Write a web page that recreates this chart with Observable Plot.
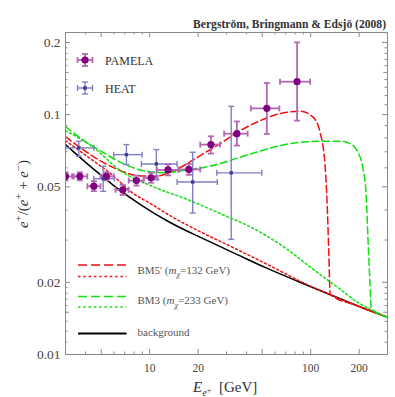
<!DOCTYPE html>
<html><head><meta charset="utf-8">
<script src="https://cdn.jsdelivr.net/npm/d3@7"></script>
<script src="https://cdn.jsdelivr.net/npm/@observablehq/plot@0.6"></script>
<style>body{margin:0;background:#fff} svg{display:block}</style>
</head><body>
<script>
// ---------- data ----------
// PAMELA positron fraction
const pamE   = [3.0, 3.68, 4.50, 5.39, 6.80, 8.27, 10.2, 13.0, 17.5, 24.0, 34.8, 53.4, 82.3];
const pamElo = [2.75, 3.38, 4.10, 4.95, 6.13, 7.41, 9.18, 11.1, 15.1, 20.6, 29.0, 42.5, 64.5];
const pamEhi = [3.30, 4.10, 4.95, 5.98, 7.41, 9.18, 11.2, 15.1, 20.6, 27.4, 40.6, 63.9, 99.2];
const pamY   = [0.0553, 0.0553, 0.0503, 0.0553, 0.0486, 0.0531, 0.0545, 0.0588, 0.0591, 0.0750, 0.0833, 0.1062, 0.1372];
const pamYlo = [0.0532, 0.0532, 0.0480, 0.0532, 0.0463, 0.0506, 0.0520, 0.0558, 0.0561, 0.0688, 0.0743, 0.0831, 0.0944];
const pamYhi = [0.0575, 0.0575, 0.0528, 0.0575, 0.0510, 0.0557, 0.0572, 0.0620, 0.0623, 0.0812, 0.0937, 0.1355, 0.2000];
// HEAT positron fraction
const heatE   = [3.63, 5.14, 7.17, 11.0, 18.5, 32.1];
const heatElo = [3.0, 4.5, 5.98, 8.88, 14.8, 26.1];
const heatEhi = [4.5, 6.04, 8.97, 14.8, 26.3, 49.7];
const heatY   = [0.0727, 0.0541, 0.0681, 0.0623, 0.0524, 0.0572];
const heatYlo = [0.0670, 0.0479, 0.0619, 0.0536, 0.0389, 0.0302];
const heatYhi = [0.0774, 0.0609, 0.0750, 0.0715, 0.0697, 0.1083];
// background
const bgE = [3.0, 4.05, 5.02, 6.58, 8.76, 13.4, 21.5, 35.0, 53.4, 85.8, 131.5, 193, 300];
const bgY = [0.0750, 0.0628, 0.0557, 0.0482, 0.0422, 0.0355, 0.0304, 0.0261, 0.0229, 0.0200, 0.0178, 0.0160, 0.0143];
// BM5' total (dashed)
const bm5E = [3.0, 4.48, 6.58, 8.39, 10.85, 13.8, 17.1, 20.6, 27.4, 36.5, 48.5, 64.6, 85.8, 103.4, 114.5, 123.0, 126.6, 129.4, 132.2, 193, 300];
const bm5Y = [0.0810, 0.0668, 0.0584, 0.0557, 0.0554, 0.0579, 0.0625, 0.0675, 0.0757, 0.0858, 0.0944, 0.1010, 0.1034, 0.0976, 0.0841, 0.0607, 0.0422, 0.0274, 0.0178, 0.0160, 0.0143];
// BM5' (dotted)
const bm5bE = [3.0, 4.11, 5.71, 7.92, 10.1, 13.4, 20.6, 33.0, 53.4, 71.7, 85.8, 131.5, 193, 300];
const bm5bY = [0.0779, 0.0668, 0.0568, 0.0469, 0.0426, 0.0379, 0.0325, 0.0279, 0.0238, 0.0215, 0.0202, 0.0178, 0.0160, 0.0143];
// BM3 total (dashed)
const bm3E = [3.0, 3.72, 5.16, 7.06, 9.41, 12.5, 17.4, 22.1, 27.4, 36.5, 48.5, 64.6, 85.8, 114.5, 152.5, 176, 197, 212, 221, 227, 233, 238, 300];
const bm3Y = [0.0891, 0.0798, 0.0694, 0.0619, 0.0582, 0.0573, 0.0590, 0.0604, 0.0625, 0.0665, 0.0705, 0.0743, 0.0767, 0.0774, 0.0774, 0.0757, 0.0694, 0.0590, 0.0464, 0.0302, 0.0205, 0.0156, 0.0143];
// BM3 (dotted)
const bm3bE = [3.0, 4.48, 6.58, 10.5, 17.1, 27.4, 46.5, 71.7, 95.0, 126.6, 152.5, 193, 236, 300];
const bm3bY = [0.0858, 0.0729, 0.0584, 0.0501, 0.0443, 0.0387, 0.0329, 0.0274, 0.0237, 0.0205, 0.0187, 0.0166, 0.0154, 0.0143];
// ticks
const xMajor = [5, 10, 20, 50, 100, 200];
const xMinor = [4, 6, 7, 8, 9, 30, 40, 60, 70, 80, 90];
const yMajor = [0.01, 0.02, 0.05, 0.1, 0.2];
const yMedium = [0.015, 0.15];
const yMinor = [0.01125, 0.0125, 0.01375, 0.016, 0.017, 0.018, 0.019, 0.03, 0.04, 0.06, 0.07, 0.08, 0.09, 0.11, 0.12, 0.13, 0.14, 0.16, 0.17, 0.18, 0.19];
// text
const title = "Bergström, Bringmann & Edsjö (2008)";
const pointLegend = ["PAMELA", "HEAT"];

// ---------- helpers ----------
const zip = (xs, ys) => xs.map((x, i) => ({x, y: ys[i]}));
const pam = pamE.map((x, i) => ({x, y: pamY[i], xlo: pamElo[i], xhi: pamEhi[i], ylo: pamYlo[i], yhi: pamYhi[i]}));
const heat = heatE.map((x, i) => ({x, y: heatY[i], xlo: heatElo[i], xhi: heatEhi[i], ylo: heatYlo[i], yhi: heatYhi[i]}));
const vcap = {draw(ctx, size) { const r = Math.sqrt(size / Math.PI); ctx.moveTo(0, -r); ctx.lineTo(0, r); }};
const hcap = {draw(ctx, size) { const r = Math.sqrt(size / Math.PI); ctx.moveTo(-r, 0); ctx.lineTo(r, 0); }};

const W = 395, H = 397, mL = 65, mR = 8, mT = 32, mB = 43;
const fw = W - mL - mR, fh = H - mT - mB;
const RED = "#f01010", GREEN = "#10e010", PCOL = "#800080", PBAR = "#b468b4", HCOL = "#3c3c96", HBAR = "#8080c4", AX = "#8a8a8a";
const DASH = "7,3.5", DOT = "2,2.6";

const errMarks = (data, bar, w, cap) => [
  Plot.link(data, {x1: "xlo", x2: "xhi", y1: "y", y2: "y", stroke: bar, strokeWidth: w, clip: true}),
  Plot.link(data, {x1: "x", x2: "x", y1: "ylo", y2: "yhi", stroke: bar, strokeWidth: w, clip: true}),
  Plot.dot(data, {x: "xlo", y: "y", symbol: vcap, r: cap, stroke: bar, fill: "none", strokeWidth: w, clip: true}),
  Plot.dot(data, {x: "xhi", y: "y", symbol: vcap, r: cap, stroke: bar, fill: "none", strokeWidth: w, clip: true}),
  Plot.dot(data, {x: "x", y: "ylo", symbol: hcap, r: cap, stroke: bar, fill: "none", strokeWidth: w, clip: true}),
  Plot.dot(data, {x: "x", y: "yhi", symbol: hcap, r: cap, stroke: bar, fill: "none", strokeWidth: w, clip: true})
];

const curve = (xs, ys, color, dash) => Plot.line(zip(xs, ys), {x: "x", y: "y", stroke: color, strokeWidth: 1.5, strokeDasharray: dash, curve: "monotone-x", clip: true});

const svgEl = Plot.plot({
  width: W, height: H,
  marginLeft: mL, marginRight: mR, marginTop: mT, marginBottom: mB,
  x: {type: "log", domain: [3, 300]},
  y: {type: "log", domain: [0.01, 0.22]},
  style: {background: "#fff", fontFamily: "Liberation Serif"},
  marks: [
    curve(bgE, bgY, "#000", null),
    curve(bm5bE, bm5bY, RED, DOT),
    curve(bm5E, bm5Y, RED, DASH),
    curve(bm3bE, bm3bY, GREEN, DOT),
    curve(bm3E, bm3Y, GREEN, DASH),
    ...errMarks(heat, HBAR, 1.4, 3),
    ...errMarks(pam, PBAR, 1.8, 3),
    Plot.dot(pam, {x: "x", y: "y", r: 3.6, fill: PCOL, clip: true}),
    Plot.dot(heat, {x: "x", y: "y", symbol: "square", r: 1.9, fill: HCOL}),
    Plot.frame({stroke: AX}),
    Plot.tickX(xMajor, {x: d => d, insetTop: fh - 5, stroke: AX}),
    Plot.tickX(xMajor, {x: d => d, insetBottom: fh - 5, stroke: AX}),
    Plot.tickX(xMinor, {x: d => d, insetTop: fh - 2.5, stroke: AX}),
    Plot.tickX(xMinor, {x: d => d, insetBottom: fh - 2.5, stroke: AX}),
    Plot.tickY(yMajor, {y: d => d, insetRight: fw - 5, stroke: AX}),
    Plot.tickY(yMajor, {y: d => d, insetLeft: fw - 5, stroke: AX}),
    Plot.tickY(yMedium, {y: d => d, insetRight: fw - 3.8, stroke: AX}),
    Plot.tickY(yMedium, {y: d => d, insetLeft: fw - 3.8, stroke: AX}),
    Plot.tickY(yMinor, {y: d => d, insetRight: fw - 2.5, stroke: AX}),
    Plot.tickY(yMinor, {y: d => d, insetLeft: fw - 2.5, stroke: AX}),
    Plot.axisX(xMajor, {tickSize: 0, tickPadding: 9, fontSize: 11.5, fill: "#444", label: null, tickFormat: d => String(d)}),
    Plot.axisY(yMajor, {tickSize: 0, tickPadding: 5, fontSize: 13.5, fill: "#444", label: null, tickFormat: d => String(d)})
  ]
});
document.body.appendChild(svgEl);

// ---------- annotations / legends ----------
const svg = d3.select(svgEl);
const g = svg.append("g").attr("font-family", "Liberation Serif").attr("text-anchor", "start");

function rich(sel, parts, base) {
  let shift = 0;
  for (const p of parts) {
    const target = p.shift ? p.shift * base : 0;
    const ts = sel.append("tspan").text(p.t).attr("dy", target - shift);
    shift = target;
    if (p.size) ts.attr("font-size", base * p.size);
    if (p.italic) ts.attr("font-style", "italic");
  }
}

// title
g.append("text").attr("x", 386).attr("y", 27.5).attr("text-anchor", "end")
  .attr("font-size", 11.6).attr("font-weight", "bold").attr("fill", "#333").text(title);

// y label
const yl = g.append("text").attr("transform", "translate(28,194) rotate(-90)")
  .attr("text-anchor", "middle").attr("font-size", 15).attr("fill", "#333");
rich(yl, [
  {t: "e", italic: true}, {t: "+", shift: -0.4, size: 0.7}, {t: "/(", shift: 0},
  {t: "e", italic: true}, {t: "+", shift: -0.4, size: 0.7}, {t: " + ", shift: 0},
  {t: "e", italic: true}, {t: "\u2212", shift: -0.4, size: 0.7}, {t: ")", shift: 0}
], 15);

// x label
const xl = g.append("text").attr("x", 193).attr("y", 392).attr("font-size", 15).attr("fill", "#333")
  .attr("text-anchor", "start").style("white-space", "pre");
rich(xl, [
  {t: "E", italic: true}, {t: "e", italic: true, shift: 0.28, size: 0.7},
  {t: "+", shift: 0.05, size: 0.55}, {t: "  [GeV]", shift: 0}
], 15);

// point legend
const legPts = [
  {label: pointLegend[0], y: 60, bar: PBAR, col: PCOL, w: 1.8, vh: 6},
  {label: pointLegend[1], y: 88, bar: HBAR, col: HCOL, w: 1.4, vh: 6}
];
legPts.forEach((d, i) => {
  const cx = 85, x0 = 77.5, x1 = 92.5;
  g.append("line").attr("x1", x0).attr("x2", x1).attr("y1", d.y).attr("y2", d.y).attr("stroke", d.bar).attr("stroke-width", d.w);
  g.append("line").attr("x1", cx).attr("x2", cx).attr("y1", d.y - d.vh).attr("y2", d.y + d.vh).attr("stroke", d.bar).attr("stroke-width", d.w);
  [x0, x1].forEach(x => g.append("line").attr("x1", x).attr("x2", x).attr("y1", d.y - 3).attr("y2", d.y + 3).attr("stroke", d.bar).attr("stroke-width", d.w));
  [d.y - d.vh, d.y + d.vh].forEach(y => g.append("line").attr("x1", cx - 3).attr("x2", cx + 3).attr("y1", y).attr("y2", y).attr("stroke", d.bar).attr("stroke-width", d.w));
  if (i === 0) g.append("circle").attr("cx", cx).attr("cy", d.y).attr("r", 3.6).attr("fill", d.col);
  else g.append("rect").attr("x", cx - 1.8).attr("y", d.y - 1.8).attr("width", 3.6).attr("height", 3.6).attr("fill", d.col);
  g.append("text").attr("x", 105).attr("y", d.y + 4.5).attr("text-anchor", "start").attr("font-size", 12).attr("fill", "#333").text(d.label);
});

// line legend
const legLines = [
  {y: 265, color: RED, dash: "9,4"}, {y: 276.5, color: RED, dash: "2.4,2.9"},
  {y: 296.5, color: GREEN, dash: "9,4"}, {y: 307, color: GREEN, dash: "2.4,2.9"},
  {y: 333.5, color: "#000", dash: null}
];
legLines.forEach(d => {
  const l = g.append("line").attr("x1", 78).attr("x2", 126.5).attr("y1", d.y).attr("y2", d.y)
    .attr("stroke", d.color).attr("stroke-width", d.dash ? 1.6 : 1.8);
  if (d.dash) l.attr("stroke-dasharray", d.dash);
});
const t1 = g.append("text").attr("x", 137.5).attr("y", 274).attr("text-anchor", "start").attr("font-size", 11).attr("fill", "#555");
rich(t1, [{t: "BM5' ("}, {t: "m", italic: true}, {t: "\u03c7", italic: true, shift: 0.3, size: 0.75}, {t: "=132 GeV)", shift: 0}], 11);
const t2 = g.append("text").attr("x", 137.5).attr("y", 304.3).attr("text-anchor", "start").attr("font-size", 11).attr("fill", "#555");
rich(t2, [{t: "BM3 ("}, {t: "m", italic: true}, {t: "\u03c7", italic: true, shift: 0.3, size: 0.75}, {t: "=233 GeV)", shift: 0}], 11);
g.append("text").attr("x", 137.5).attr("y", 335.5).attr("text-anchor", "start").attr("font-size", 11).attr("fill", "#555").text("background");
</script>
</body></html>
